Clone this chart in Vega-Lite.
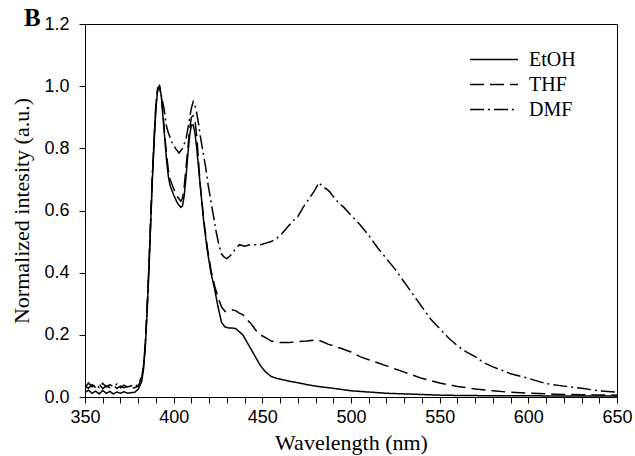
{
  "$schema": "https://vega.github.io/schema/vega-lite/v6.json",
  "width": 532,
  "height": 373,
  "autosize": "none",
  "padding": {"left": 85, "top": 24, "right": 18, "bottom": 59},
  "background": "white",
  "title": {"text": "B", "anchor": "start", "frame": "group", "font": "Liberation Serif", "fontSize": 25, "fontWeight": "bold", "color": "black", "dx": -61, "dy": 5, "offset": -11, "baseline": "top"},
  "config": {
    "view": {"stroke": "black", "strokeWidth": 1},
    "axis": {"grid": false, "domainColor": "black", "tickColor": "black", "tickSize": 6, "labelColor": "black", "titleColor": "black", "labelFont": "Liberation Sans", "labelFontSize": 18, "titleFont": "Liberation Serif", "titleFontSize": 22, "titleFontWeight": "normal"},
    "legend": {"labelFont": "Liberation Serif", "labelFontSize": 20, "labelColor": "black"}
  },
  "data": {"values": [
    {"solvent":"EtOH","wavelength":350,"intensity":0.015},{"solvent":"EtOH","wavelength":352,"intensity":0.022},{"solvent":"EtOH","wavelength":354,"intensity":0.012},{"solvent":"EtOH","wavelength":356,"intensity":0.019},{"solvent":"EtOH","wavelength":358,"intensity":0.01},{"solvent":"EtOH","wavelength":360,"intensity":0.021},{"solvent":"EtOH","wavelength":362,"intensity":0.012},{"solvent":"EtOH","wavelength":364,"intensity":0.018},{"solvent":"EtOH","wavelength":366,"intensity":0.01},{"solvent":"EtOH","wavelength":368,"intensity":0.016},{"solvent":"EtOH","wavelength":370,"intensity":0.012},{"solvent":"EtOH","wavelength":372,"intensity":0.017},{"solvent":"EtOH","wavelength":374,"intensity":0.012},{"solvent":"EtOH","wavelength":376,"intensity":0.014},{"solvent":"EtOH","wavelength":378,"intensity":0.015},{"solvent":"EtOH","wavelength":380,"intensity":0.025},{"solvent":"EtOH","wavelength":382,"intensity":0.05},{"solvent":"EtOH","wavelength":383,"intensity":0.09},{"solvent":"EtOH","wavelength":384,"intensity":0.16},{"solvent":"EtOH","wavelength":385,"intensity":0.27},{"solvent":"EtOH","wavelength":386,"intensity":0.4},{"solvent":"EtOH","wavelength":387,"intensity":0.55},{"solvent":"EtOH","wavelength":388,"intensity":0.7},{"solvent":"EtOH","wavelength":389,"intensity":0.82},{"solvent":"EtOH","wavelength":390,"intensity":0.93},{"solvent":"EtOH","wavelength":391,"intensity":0.99},{"solvent":"EtOH","wavelength":392,"intensity":1.0},{"solvent":"EtOH","wavelength":393,"intensity":0.97},{"solvent":"EtOH","wavelength":394,"intensity":0.9},{"solvent":"EtOH","wavelength":395,"intensity":0.83},{"solvent":"EtOH","wavelength":396,"intensity":0.76},{"solvent":"EtOH","wavelength":397,"intensity":0.71},{"solvent":"EtOH","wavelength":398,"intensity":0.68},{"solvent":"EtOH","wavelength":400,"intensity":0.65},{"solvent":"EtOH","wavelength":402,"intensity":0.625},{"solvent":"EtOH","wavelength":404,"intensity":0.61},{"solvent":"EtOH","wavelength":405,"intensity":0.615},{"solvent":"EtOH","wavelength":406,"intensity":0.65},{"solvent":"EtOH","wavelength":407,"intensity":0.71},{"solvent":"EtOH","wavelength":408,"intensity":0.78},{"solvent":"EtOH","wavelength":409,"intensity":0.84},{"solvent":"EtOH","wavelength":410,"intensity":0.875},{"solvent":"EtOH","wavelength":411,"intensity":0.875},{"solvent":"EtOH","wavelength":412,"intensity":0.85},{"solvent":"EtOH","wavelength":413,"intensity":0.8},{"solvent":"EtOH","wavelength":415,"intensity":0.68},{"solvent":"EtOH","wavelength":417,"intensity":0.56},{"solvent":"EtOH","wavelength":419,"intensity":0.47},{"solvent":"EtOH","wavelength":421,"intensity":0.4},{"solvent":"EtOH","wavelength":423,"intensity":0.35},{"solvent":"EtOH","wavelength":425,"intensity":0.29},{"solvent":"EtOH","wavelength":427,"intensity":0.24},{"solvent":"EtOH","wavelength":429,"intensity":0.225},{"solvent":"EtOH","wavelength":431,"intensity":0.222},{"solvent":"EtOH","wavelength":433,"intensity":0.222},{"solvent":"EtOH","wavelength":435,"intensity":0.22},{"solvent":"EtOH","wavelength":437,"intensity":0.21},{"solvent":"EtOH","wavelength":439,"intensity":0.2},{"solvent":"EtOH","wavelength":441,"intensity":0.18},{"solvent":"EtOH","wavelength":443,"intensity":0.16},{"solvent":"EtOH","wavelength":445,"intensity":0.14},{"solvent":"EtOH","wavelength":447,"intensity":0.12},{"solvent":"EtOH","wavelength":449,"intensity":0.1},{"solvent":"EtOH","wavelength":452,"intensity":0.08},{"solvent":"EtOH","wavelength":455,"intensity":0.066},{"solvent":"EtOH","wavelength":458,"intensity":0.06},{"solvent":"EtOH","wavelength":462,"intensity":0.055},{"solvent":"EtOH","wavelength":466,"intensity":0.05},{"solvent":"EtOH","wavelength":470,"intensity":0.046},{"solvent":"EtOH","wavelength":475,"intensity":0.04},{"solvent":"EtOH","wavelength":480,"intensity":0.035},{"solvent":"EtOH","wavelength":490,"intensity":0.028},{"solvent":"EtOH","wavelength":500,"intensity":0.02},{"solvent":"EtOH","wavelength":510,"intensity":0.016},{"solvent":"EtOH","wavelength":520,"intensity":0.012},{"solvent":"EtOH","wavelength":530,"intensity":0.01},{"solvent":"EtOH","wavelength":540,"intensity":0.008},{"solvent":"EtOH","wavelength":550,"intensity":0.006},{"solvent":"EtOH","wavelength":560,"intensity":0.005},{"solvent":"EtOH","wavelength":580,"intensity":0.004},{"solvent":"EtOH","wavelength":600,"intensity":0.004},{"solvent":"EtOH","wavelength":620,"intensity":0.003},{"solvent":"EtOH","wavelength":650,"intensity":0.003},

    {"solvent":"THF","wavelength":350,"intensity":0.035},{"solvent":"THF","wavelength":352,"intensity":0.028},{"solvent":"THF","wavelength":354,"intensity":0.04},{"solvent":"THF","wavelength":356,"intensity":0.03},{"solvent":"THF","wavelength":358,"intensity":0.042},{"solvent":"THF","wavelength":360,"intensity":0.027},{"solvent":"THF","wavelength":362,"intensity":0.036},{"solvent":"THF","wavelength":364,"intensity":0.03},{"solvent":"THF","wavelength":366,"intensity":0.038},{"solvent":"THF","wavelength":368,"intensity":0.028},{"solvent":"THF","wavelength":370,"intensity":0.035},{"solvent":"THF","wavelength":372,"intensity":0.03},{"solvent":"THF","wavelength":374,"intensity":0.034},{"solvent":"THF","wavelength":376,"intensity":0.028},{"solvent":"THF","wavelength":378,"intensity":0.03},{"solvent":"THF","wavelength":380,"intensity":0.035},{"solvent":"THF","wavelength":382,"intensity":0.06},{"solvent":"THF","wavelength":383,"intensity":0.1},{"solvent":"THF","wavelength":384,"intensity":0.17},{"solvent":"THF","wavelength":385,"intensity":0.28},{"solvent":"THF","wavelength":386,"intensity":0.41},{"solvent":"THF","wavelength":387,"intensity":0.56},{"solvent":"THF","wavelength":388,"intensity":0.71},{"solvent":"THF","wavelength":389,"intensity":0.83},{"solvent":"THF","wavelength":390,"intensity":0.94},{"solvent":"THF","wavelength":391,"intensity":0.99},{"solvent":"THF","wavelength":392,"intensity":1.0},{"solvent":"THF","wavelength":393,"intensity":0.97},{"solvent":"THF","wavelength":394,"intensity":0.91},{"solvent":"THF","wavelength":395,"intensity":0.84},{"solvent":"THF","wavelength":396,"intensity":0.78},{"solvent":"THF","wavelength":397,"intensity":0.73},{"solvent":"THF","wavelength":398,"intensity":0.7},{"solvent":"THF","wavelength":400,"intensity":0.67},{"solvent":"THF","wavelength":402,"intensity":0.645},{"solvent":"THF","wavelength":404,"intensity":0.63},{"solvent":"THF","wavelength":405,"intensity":0.64},{"solvent":"THF","wavelength":406,"intensity":0.68},{"solvent":"THF","wavelength":407,"intensity":0.74},{"solvent":"THF","wavelength":408,"intensity":0.8},{"solvent":"THF","wavelength":409,"intensity":0.86},{"solvent":"THF","wavelength":410,"intensity":0.9},{"solvent":"THF","wavelength":411,"intensity":0.905},{"solvent":"THF","wavelength":412,"intensity":0.89},{"solvent":"THF","wavelength":413,"intensity":0.84},{"solvent":"THF","wavelength":414,"intensity":0.76},{"solvent":"THF","wavelength":415,"intensity":0.68},{"solvent":"THF","wavelength":417,"intensity":0.57},{"solvent":"THF","wavelength":419,"intensity":0.48},{"solvent":"THF","wavelength":421,"intensity":0.41},{"solvent":"THF","wavelength":423,"intensity":0.36},{"solvent":"THF","wavelength":425,"intensity":0.32},{"solvent":"THF","wavelength":427,"intensity":0.29},{"solvent":"THF","wavelength":429,"intensity":0.275},{"solvent":"THF","wavelength":431,"intensity":0.275},{"solvent":"THF","wavelength":433,"intensity":0.28},{"solvent":"THF","wavelength":435,"intensity":0.278},{"solvent":"THF","wavelength":437,"intensity":0.27},{"solvent":"THF","wavelength":439,"intensity":0.265},{"solvent":"THF","wavelength":441,"intensity":0.25},{"solvent":"THF","wavelength":443,"intensity":0.24},{"solvent":"THF","wavelength":445,"intensity":0.225},{"solvent":"THF","wavelength":447,"intensity":0.21},{"solvent":"THF","wavelength":449,"intensity":0.2},{"solvent":"THF","wavelength":452,"intensity":0.19},{"solvent":"THF","wavelength":455,"intensity":0.18},{"solvent":"THF","wavelength":460,"intensity":0.175},{"solvent":"THF","wavelength":465,"intensity":0.175},{"solvent":"THF","wavelength":470,"intensity":0.178},{"solvent":"THF","wavelength":475,"intensity":0.18},{"solvent":"THF","wavelength":480,"intensity":0.183},{"solvent":"THF","wavelength":483,"intensity":0.18},{"solvent":"THF","wavelength":487,"intensity":0.17},{"solvent":"THF","wavelength":490,"intensity":0.165},{"solvent":"THF","wavelength":495,"intensity":0.155},{"solvent":"THF","wavelength":500,"intensity":0.145},{"solvent":"THF","wavelength":505,"intensity":0.13},{"solvent":"THF","wavelength":510,"intensity":0.12},{"solvent":"THF","wavelength":515,"intensity":0.11},{"solvent":"THF","wavelength":520,"intensity":0.1},{"solvent":"THF","wavelength":525,"intensity":0.09},{"solvent":"THF","wavelength":530,"intensity":0.08},{"solvent":"THF","wavelength":535,"intensity":0.07},{"solvent":"THF","wavelength":540,"intensity":0.06},{"solvent":"THF","wavelength":550,"intensity":0.045},{"solvent":"THF","wavelength":560,"intensity":0.034},{"solvent":"THF","wavelength":570,"intensity":0.026},{"solvent":"THF","wavelength":580,"intensity":0.02},{"solvent":"THF","wavelength":590,"intensity":0.015},{"solvent":"THF","wavelength":600,"intensity":0.012},{"solvent":"THF","wavelength":615,"intensity":0.009},{"solvent":"THF","wavelength":630,"intensity":0.007},{"solvent":"THF","wavelength":650,"intensity":0.006},

    {"solvent":"DMF","wavelength":350,"intensity":0.03},{"solvent":"DMF","wavelength":352,"intensity":0.045},{"solvent":"DMF","wavelength":354,"intensity":0.033},{"solvent":"DMF","wavelength":356,"intensity":0.04},{"solvent":"DMF","wavelength":358,"intensity":0.03},{"solvent":"DMF","wavelength":360,"intensity":0.044},{"solvent":"DMF","wavelength":362,"intensity":0.032},{"solvent":"DMF","wavelength":364,"intensity":0.04},{"solvent":"DMF","wavelength":366,"intensity":0.033},{"solvent":"DMF","wavelength":368,"intensity":0.042},{"solvent":"DMF","wavelength":370,"intensity":0.03},{"solvent":"DMF","wavelength":372,"intensity":0.038},{"solvent":"DMF","wavelength":374,"intensity":0.032},{"solvent":"DMF","wavelength":376,"intensity":0.036},{"solvent":"DMF","wavelength":378,"intensity":0.033},{"solvent":"DMF","wavelength":380,"intensity":0.04},{"solvent":"DMF","wavelength":382,"intensity":0.065},{"solvent":"DMF","wavelength":383,"intensity":0.1},{"solvent":"DMF","wavelength":384,"intensity":0.17},{"solvent":"DMF","wavelength":385,"intensity":0.28},{"solvent":"DMF","wavelength":386,"intensity":0.42},{"solvent":"DMF","wavelength":387,"intensity":0.57},{"solvent":"DMF","wavelength":388,"intensity":0.72},{"solvent":"DMF","wavelength":389,"intensity":0.84},{"solvent":"DMF","wavelength":390,"intensity":0.94},{"solvent":"DMF","wavelength":391,"intensity":0.995},{"solvent":"DMF","wavelength":392,"intensity":1.0},{"solvent":"DMF","wavelength":393,"intensity":0.97},{"solvent":"DMF","wavelength":394.5,"intensity":0.93},{"solvent":"DMF","wavelength":396,"intensity":0.87},{"solvent":"DMF","wavelength":397,"intensity":0.85},{"solvent":"DMF","wavelength":399,"intensity":0.82},{"solvent":"DMF","wavelength":401,"intensity":0.8},{"solvent":"DMF","wavelength":403,"intensity":0.785},{"solvent":"DMF","wavelength":405,"intensity":0.8},{"solvent":"DMF","wavelength":407,"intensity":0.83},{"solvent":"DMF","wavelength":408.5,"intensity":0.88},{"solvent":"DMF","wavelength":410,"intensity":0.93},{"solvent":"DMF","wavelength":411,"intensity":0.95},{"solvent":"DMF","wavelength":412.5,"intensity":0.93},{"solvent":"DMF","wavelength":414,"intensity":0.88},{"solvent":"DMF","wavelength":415,"intensity":0.84},{"solvent":"DMF","wavelength":416.5,"intensity":0.79},{"solvent":"DMF","wavelength":418,"intensity":0.74},{"solvent":"DMF","wavelength":419.5,"intensity":0.68},{"solvent":"DMF","wavelength":421,"intensity":0.63},{"solvent":"DMF","wavelength":422.5,"intensity":0.58},{"solvent":"DMF","wavelength":424,"intensity":0.53},{"solvent":"DMF","wavelength":425.5,"intensity":0.49},{"solvent":"DMF","wavelength":427,"intensity":0.46},{"solvent":"DMF","wavelength":428.5,"intensity":0.45},{"solvent":"DMF","wavelength":430,"intensity":0.445},{"solvent":"DMF","wavelength":432,"intensity":0.455},{"solvent":"DMF","wavelength":434,"intensity":0.47},{"solvent":"DMF","wavelength":437,"intensity":0.49},{"solvent":"DMF","wavelength":440,"intensity":0.485},{"solvent":"DMF","wavelength":443,"intensity":0.49},{"solvent":"DMF","wavelength":446,"intensity":0.49},{"solvent":"DMF","wavelength":449,"intensity":0.49},{"solvent":"DMF","wavelength":452,"intensity":0.495},{"solvent":"DMF","wavelength":455,"intensity":0.5},{"solvent":"DMF","wavelength":458,"intensity":0.51},{"solvent":"DMF","wavelength":461,"intensity":0.525},{"solvent":"DMF","wavelength":464,"intensity":0.545},{"solvent":"DMF","wavelength":467,"intensity":0.565},{"solvent":"DMF","wavelength":470,"intensity":0.58},{"solvent":"DMF","wavelength":473,"intensity":0.61},{"solvent":"DMF","wavelength":476,"intensity":0.635},{"solvent":"DMF","wavelength":479,"intensity":0.66},{"solvent":"DMF","wavelength":481,"intensity":0.68},{"solvent":"DMF","wavelength":482,"intensity":0.69},{"solvent":"DMF","wavelength":484,"intensity":0.675},{"solvent":"DMF","wavelength":486,"intensity":0.67},{"solvent":"DMF","wavelength":488,"intensity":0.66},{"solvent":"DMF","wavelength":490,"intensity":0.645},{"solvent":"DMF","wavelength":493,"intensity":0.625},{"solvent":"DMF","wavelength":496,"intensity":0.61},{"solvent":"DMF","wavelength":500,"intensity":0.585},{"solvent":"DMF","wavelength":505,"intensity":0.555},{"solvent":"DMF","wavelength":510,"intensity":0.52},{"solvent":"DMF","wavelength":515,"intensity":0.48},{"solvent":"DMF","wavelength":520,"intensity":0.445},{"solvent":"DMF","wavelength":525,"intensity":0.41},{"solvent":"DMF","wavelength":530,"intensity":0.37},{"solvent":"DMF","wavelength":535,"intensity":0.33},{"solvent":"DMF","wavelength":540,"intensity":0.29},{"solvent":"DMF","wavelength":545,"intensity":0.25},{"solvent":"DMF","wavelength":550,"intensity":0.22},{"solvent":"DMF","wavelength":555,"intensity":0.19},{"solvent":"DMF","wavelength":560,"intensity":0.165},{"solvent":"DMF","wavelength":565,"intensity":0.145},{"solvent":"DMF","wavelength":570,"intensity":0.13},{"solvent":"DMF","wavelength":575,"intensity":0.11},{"solvent":"DMF","wavelength":580,"intensity":0.097},{"solvent":"DMF","wavelength":590,"intensity":0.075},{"solvent":"DMF","wavelength":600,"intensity":0.06},{"solvent":"DMF","wavelength":610,"intensity":0.043},{"solvent":"DMF","wavelength":620,"intensity":0.035},{"solvent":"DMF","wavelength":630,"intensity":0.028},{"solvent":"DMF","wavelength":640,"intensity":0.02},{"solvent":"DMF","wavelength":650,"intensity":0.016}
  ]},
  "mark": {"type": "line", "color": "black", "strokeWidth": 1.5, "clip": true},
  "encoding": {
    "x": {"field": "wavelength", "type": "quantitative", "scale": {"domain": [350, 650], "nice": false, "zero": false},
      "axis": {"title": "Wavelength (nm)", "values": [350,360,370,380,390,400,410,420,430,440,450,460,470,480,490,500,510,520,530,540,550,560,570,580,590,600,610,620,630,640,650], "labelExpr": "datum.value % 50 === 0 ? datum.label : ''", "labelFlush": false, "labelOverlap": false, "labelPadding": 5, "titlePadding": 6}},
    "y": {"field": "intensity", "type": "quantitative", "scale": {"domain": [0, 1.2], "nice": false},
      "axis": {"title": "Normalized intesity (a.u.)", "values": [0,0.2,0.4,0.6,0.8,1.0,1.2], "format": ".1f", "labelFlush": false, "labelPadding": 10, "titlePadding": 10}},
    "strokeDash": {"field": "solvent", "type": "nominal",
      "scale": {"domain": ["EtOH", "THF", "DMF"], "range": [[1, 0], [14, 6], [14, 4, 2, 4]]},
      "legend": {"title": null, "orient": "none", "legendX": 384, "legendY": 23, "symbolType": "stroke", "symbolSize": 2304, "symbolStrokeWidth": 1.5, "symbolStrokeColor": "black", "labelOffset": 10, "clipHeight": 25, "rowPadding": 0}},
    "order": {"field": "wavelength", "type": "quantitative"}
  }
}
